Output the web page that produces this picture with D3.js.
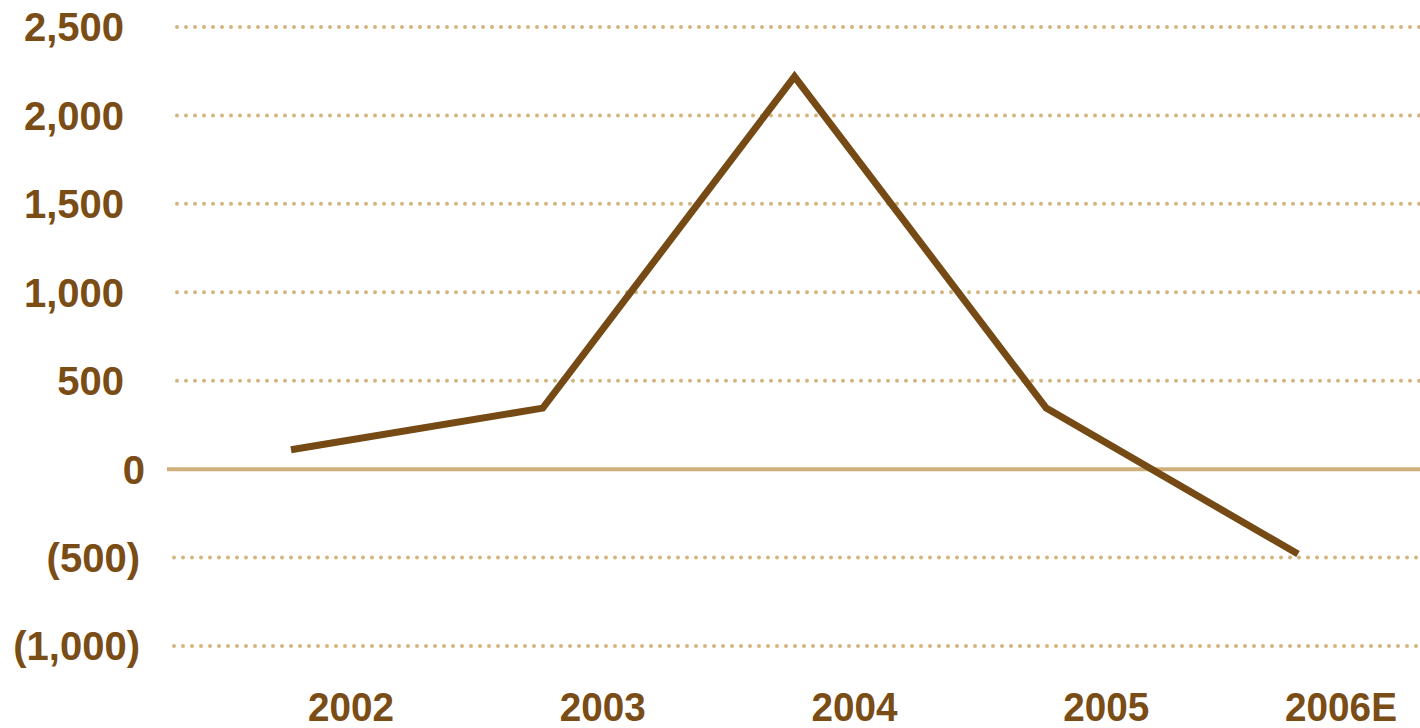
<!DOCTYPE html>
<html>
<head>
<meta charset="utf-8">
<script src="https://cdn.jsdelivr.net/npm/d3@7"></script>
<style>
  body { margin: 0; background: #fff; }
  text { font-family: "Liberation Sans", Arial, sans-serif; font-weight: bold; fill: #7a4c16; }
</style>
</head>
<body>
<svg id="chart" width="1420" height="728"></svg>
<script>
// data
const years = ["2002", "2003", "2004", "2005", "2006E"];
const values = [110, 345, 2220, 345, -480];
const yTicks = [-1000, -500, 0, 500, 1000, 1500, 2000, 2500];

const width = 1420, height = 728;
const gridColor = "#d4b47f", zeroColor = "#cfb07c";

const svg = d3.select("#chart");

// point positions for the line
const x = d3.scalePoint().domain(years).range([291, 1298]);
const y = d3.scaleLinear().domain([-1000, 2500]).range([646, 27]);

// gridlines (dotted), zero line solid
svg.append("g")
  .selectAll("line")
  .data(yTicks.filter((d) => d !== 0))
  .join("line")
  .attr("x1", (d) => (d < 0 ? 174 : 177))
  .attr("x2", width)
  .attr("y1", (d) => y(d))
  .attr("y2", (d) => y(d))
  .attr("stroke", gridColor)
  .attr("stroke-width", 4)
  .attr("stroke-linecap", "round")
  .attr("stroke-dasharray", "0 9");

svg.append("line")
  .attr("x1", 167)
  .attr("x2", width)
  .attr("y1", y(0))
  .attr("y2", y(0))
  .attr("stroke", zeroColor)
  .attr("stroke-width", 4);

// y labels: accounting style, negatives in brackets
const fmt = d3.format(",");
svg.append("g")
  .selectAll("text")
  .data(yTicks)
  .join("text")
  .attr("x", (d) => (d > 0 ? 124 : d === 0 ? 145 : 140))
  .attr("y", (d) => y(d))
  .attr("dy", "0.36em")
  .attr("text-anchor", "end")
  .attr("font-size", 40)
  .text((d) => (d < 0 ? "(" + fmt(-d) + ")" : fmt(d)));

// x labels sit right of their points
const xl = svg.append("g")
  .selectAll("text")
  .data(years)
  .join("text")
  .attr("x", (d) => x(d) + 60)
  .attr("y", 721)
  .attr("text-anchor", "middle")
  .attr("font-size", 40)
  .attr("textLength", (d) => (d.length === 4 ? 86 : 112))
  .attr("lengthAdjust", "spacingAndGlyphs")
  .text((d) => d);

// keep the last label inside the frame
xl.filter((d, i) => i === years.length - 1)
  .attr("text-anchor", "end")
  .attr("x", 1397);

// the series line
const line = d3.line()
  .x((d, i) => x(years[i]))
  .y((d) => y(d));

svg.append("path")
  .datum(values)
  .attr("d", line)
  .attr("fill", "none")
  .attr("stroke", "#764a14")
  .attr("stroke-width", 7)
  .attr("stroke-linejoin", "miter");
</script>
</body>
</html>
